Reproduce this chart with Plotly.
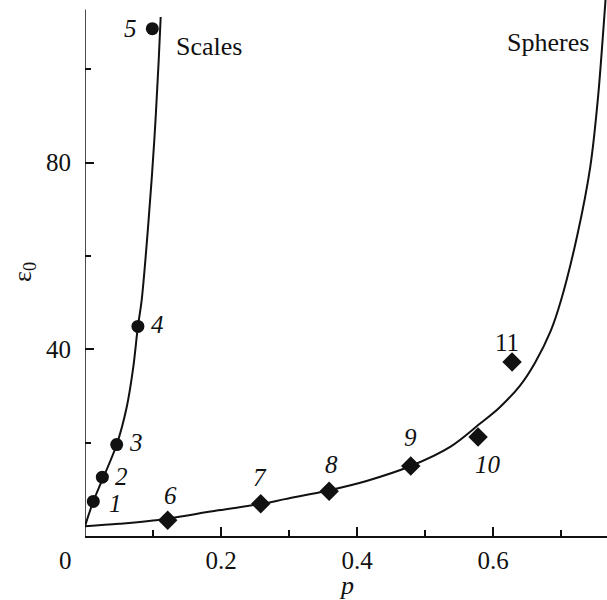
import plotly.graph_objects as go

# Data points
scales_p = [0.0122, 0.0255, 0.0466, 0.0778, 0.099]
scales_eps = [7.4, 12.6, 19.6, 44.9, 108.7]
scales_labels = ["1", "2", "3", "4", "5"]

spheres_p = [0.1216, 0.2584, 0.359, 0.479, 0.578, 0.628]
spheres_eps = [3.4, 6.9, 9.6, 15.0, 21.2, 37.3]
spheres_labels = ["6", "7", "8", "9", "10", "11"]

# Fitted curves
scales_curve_p = [0.0, 0.0122, 0.0466, 0.0613, 0.0710, 0.0778,
                  0.0833, 0.0931, 0.1019, 0.1084, 0.1113]
scales_curve_eps = [2.1, 7.4, 19.6, 27.6, 36.2, 44.9,
                    50.5, 66.9, 84.8, 102.0, 111.2]

spheres_curve_p = [0.0, 0.05, 0.1, 0.196, 0.26, 0.294, 0.359, 0.414, 0.479,
                   0.537, 0.581, 0.610, 0.640, 0.662, 0.685, 0.700,
                   0.724, 0.743, 0.754, 0.7615, 0.766]
spheres_curve_eps = [2.1, 2.6, 3.3, 5.5, 6.9, 7.9, 9.8, 11.8, 15.0,
                     19.1, 24.1, 27.6, 32.3, 37.2, 44.0, 50.5,
                     64.5, 79.1, 93.4, 107.0, 116.0]

x_ticks = [0.2, 0.4, 0.6]
x_minor = [0.1, 0.3, 0.5, 0.7]
y_ticks = [40, 80]
y_minor = [20, 60, 100]

FONT = "Times New Roman, Liberation Serif, DejaVu Serif, serif"
INK = "#111111"

fig = go.Figure()
fig.add_trace(go.Scatter(x=scales_curve_p, y=scales_curve_eps, mode="lines",
                         line=dict(color=INK, width=2, shape="spline", smoothing=1.0),
                         hoverinfo="skip"))
fig.add_trace(go.Scatter(x=spheres_curve_p, y=spheres_curve_eps, mode="lines",
                         line=dict(color=INK, width=2, shape="spline", smoothing=1.0),
                         hoverinfo="skip"))
fig.add_trace(go.Scatter(x=scales_p, y=scales_eps, mode="markers",
                         marker=dict(symbol="circle", size=13, color=INK),
                         cliponaxis=False))
fig.add_trace(go.Scatter(x=spheres_p, y=spheres_eps, mode="markers",
                         marker=dict(symbol="diamond", size=15, color=INK),
                         cliponaxis=False))

# label offsets in pixels (dx, dy)
scales_off = [(22, -2), (19, 1), (19, 2), (20, 2), (-22, 0)]
spheres_off = [(3, 25), (-1, 26), (2, 27), (0, 29), (10, -27), (-5, 19)]

def ann(**kw):
    kw.setdefault("xanchor", "center")
    kw.setdefault("yanchor", "middle")
    kw.setdefault("showarrow", False)
    fig.add_annotation(**kw)

for p, e, t, (dx, dy) in zip(scales_p, scales_eps, scales_labels, scales_off):
    ann(x=p, y=e, text=f"<i>{t}</i>", xshift=dx, yshift=dy,
        font=dict(family=FONT, size=25, color=INK))
for p, e, t, (dx, dy) in zip(spheres_p, spheres_eps, spheres_labels, spheres_off):
    txt = t if t == "11" else f"<i>{t}</i>"
    ann(x=p, y=e, text=txt, xshift=dx, yshift=dy,
        font=dict(family=FONT, size=25, color=INK))

ann(x=0.1824, y=104.9, text="Scales", font=dict(family=FONT, size=26, color=INK))
ann(x=0.681, y=105.8, text="Spheres", font=dict(family=FONT, size=26, color=INK))

# origin label, axis titles
ann(xref="paper", yref="paper", x=0, y=0, xshift=-20, yshift=-24,
    text="0", font=dict(family=FONT, size=25, color=INK))
ann(xref="paper", yref="paper", x=0.5, y=0, yshift=-49,
    text="<i>p</i>", font=dict(family=FONT, size=26, color=INK))
ann(xref="paper", yref="paper", x=0, y=0.4925, xshift=-61,
    text="ε<sub>0</sub>", textangle=-90, font=dict(family=FONT, size=26, color=INK))

fig.add_shape(type="line", xref="x", yref="y", x0=0, x1=0, y0=0, y1=112.8,
              line=dict(color=INK, width=1.5))

fig.update_layout(
    width=607, height=600,
    margin=dict(l=85, r=0, t=0, b=64, autoexpand=False),
    plot_bgcolor="white", paper_bgcolor="white",
    showlegend=False,
    font=dict(family=FONT, size=25, color=INK),
    xaxis=dict(range=[0, 0.7676], showgrid=False, zeroline=False, automargin=False,
               showline=True, linecolor=INK, linewidth=1.5,
               tickvals=x_ticks, ticktext=[str(v) for v in x_ticks],
               ticks="inside", ticklen=9, tickwidth=1.5, tickcolor=INK,
               ticklabelstandoff=1,
               minor=dict(tickvals=x_minor, ticks="inside", ticklen=6,
                          tickwidth=1.5, tickcolor=INK, showgrid=False)),
    yaxis=dict(range=[0, 114.85], showgrid=False, zeroline=False, automargin=False,
               showline=False,
               tickvals=y_ticks, ticktext=[str(v) for v in y_ticks],
               ticks="inside", ticklen=9, tickwidth=1.5, tickcolor=INK,
               ticklabelstandoff=13,
               minor=dict(tickvals=y_minor, ticks="inside", ticklen=6,
                          tickwidth=1.5, tickcolor=INK, showgrid=False)),
)

fig.write_html("out.html", config={"displayModeBar": False},
               post_script="document.body.style.margin='0';document.body.style.overflow='hidden';")
